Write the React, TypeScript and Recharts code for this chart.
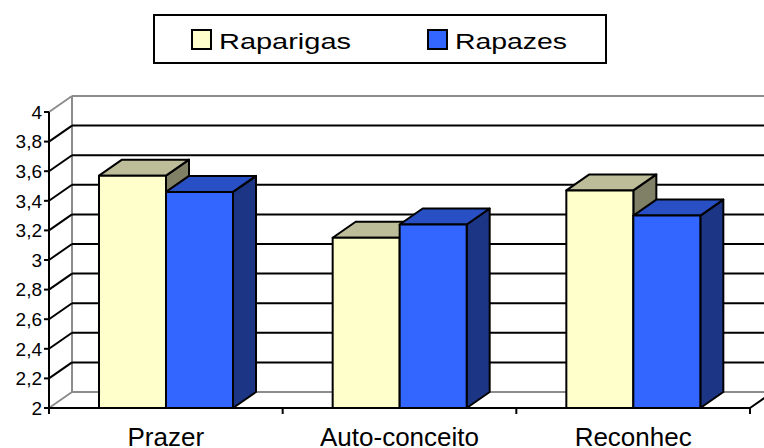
import { BarChart, Bar, XAxis, YAxis, CartesianGrid, Legend } from "recharts";

const categories = ["Prazer", "Auto-conceito", "Reconhec"];
const raparigas = [3.57, 3.15, 3.47];
const rapazes = [3.46, 3.24, 3.3];
const yTicks = [2, 2.2, 2.4, 2.6, 2.8, 3, 3.2, 3.4, 3.6, 3.8, 4];

const data = categories.map((cat, i) => ({
  cat,
  raparigas: raparigas[i],
  rapazes: rapazes[i],
}));

const FONT = "'Liberation Sans', Arial, sans-serif";
const W = 764;
const H = 448;
const LEFT = 49;
const RIGHT = 750;
const TOP = 112;
const BOTTOM = 408;
// depth of the 3d box
const DX = 23;
const DY = -16;
const GRAY = "#8c8c8c";

const prism = (topColor: string, sideColor: string) => (p: any) => {
  const { x, y, width: w, height: h, fill } = p;
  if (!w || !h) return <g />;
  const side = `${x + w},${y} ${x + w + DX},${y + DY} ${x + w + DX},${y + h + DY} ${x + w},${y + h}`;
  const top = `${x},${y} ${x + DX},${y + DY} ${x + w + DX},${y + DY} ${x + w},${y}`;
  return (
    <g stroke="#000" strokeWidth={2} strokeLinejoin="round">
      <polygon points={side} fill={sideColor} />
      <polygon points={top} fill={topColor} />
      <rect x={x} y={y} width={w} height={h} fill={fill} />
    </g>
  );
};

const gridLine = (p: any) => {
  const { x1, y1, x2 } = p;
  const edge = Math.abs(y1 - TOP) < 1 || Math.abs(y1 - BOTTOM) < 1;
  const c = edge ? GRAY : "#000";
  const isFloor = Math.abs(y1 - BOTTOM) < 1;
  return (
    <g key={p.key ?? p.index}>
      <line x1={x1 + DX} y1={y1 + DY} x2={x2 + DX + 20} y2={y1 + DY} stroke={c} strokeWidth={2} />
      <line x1={x1} y1={y1} x2={x1 + DX} y2={y1 + DY} stroke={c} strokeWidth={2} />
      {isFloor && (
        <>
          <line x1={x1 + DX} y1={TOP + DY} x2={x1 + DX} y2={BOTTOM + DY} stroke={GRAY} strokeWidth={2} />
          <line x1={x2} y1={y1} x2={x2 + DX} y2={y1 + DY} stroke="#000" strokeWidth={2} />
        </>
      )}
    </g>
  );
};

const CatTick = (p: any) => {
  const { x, payload, index } = p;
  const band = (RIGHT - LEFT) / categories.length;
  const last = index === categories.length - 1;
  return (
    <g>
      <line x1={x - band / 2} y1={BOTTOM} x2={x - band / 2} y2={BOTTOM + 6} stroke="#000" strokeWidth={2} />
      {last && (
        <line x1={x + band / 2} y1={BOTTOM} x2={x + band / 2} y2={BOTTOM + 6} stroke="#000" strokeWidth={2} />
      )}
      <text x={x} y={BOTTOM + 38} textAnchor="middle" fontSize={26} fontFamily={FONT} fill="#000">
        {payload.value}
      </text>
    </g>
  );
};

const widths: Record<string, number> = { Raparigas: 132, Rapazes: 112 };
const swatchX = [192, 428];

const LegendBox = (props: any) => {
  const payload = props.payload || [];
  return (
    <svg width={W} height={70}>
      <rect x={154} y={15} width={452} height={48} fill="#fff" stroke="#000" strokeWidth={2} />
      {payload.map((e: any, i: number) => (
        <g key={e.value}>
          <rect x={swatchX[i]} y={30} width={19} height={19} fill={e.color} stroke="#000" strokeWidth={2} />
          <text
            x={swatchX[i] + 27}
            y={49}
            fontSize={22}
            fontFamily={FONT}
            fill="#000"
            textLength={widths[e.value]}
            lengthAdjust="spacingAndGlyphs"
          >
            {e.value}
          </text>
        </g>
      ))}
    </svg>
  );
};

export default function App() {
  return (
    <div style={{ position: "absolute", left: 0, top: 0, width: W, height: H, background: "#fff" }}>
      <BarChart
        width={W}
        height={H}
        data={data}
        margin={{ top: TOP, right: W - RIGHT, bottom: 0, left: 0 }}
        barCategoryGap={50}
        barGap={0}
      >
        <CartesianGrid vertical={false} horizontal={gridLine} />
        <XAxis
          dataKey="cat"
          height={H - BOTTOM}
          axisLine={{ stroke: "#000", strokeWidth: 2 }}
          tickLine={false}
          tickSize={0}
          tickMargin={0}
          tick={<CatTick />}
          interval={0}
        />
        <YAxis
          width={LEFT}
          domain={[2, 4]}
          ticks={yTicks}
          interval={0}
          axisLine={{ stroke: "#000", strokeWidth: 2 }}
          tickLine={{ stroke: "#000", strokeWidth: 2 }}
          tickSize={5}
          tickMargin={2}
          tick={{ fill: "#000", fontSize: 19, fontFamily: FONT }}
          tickFormatter={(v: number) => String(v).replace(".", ",")}
        />
        <Legend
          layout="vertical"
          align="center"
          verticalAlign="middle"
          wrapperStyle={{ top: 0, left: 0, width: W, height: 70 }}
          content={<LegendBox />}
        />
        <Bar
          dataKey="raparigas"
          name="Raparigas"
          fill="#FFFFCC"
          shape={prism("#BDBD9A", "#808066")}
          isAnimationActive={false}
        />
        <Bar
          dataKey="rapazes"
          name="Rapazes"
          fill="#3366FF"
          shape={prism("#2850C4", "#1C3585")}
          isAnimationActive={false}
        />
      </BarChart>
    </div>
  );
}
